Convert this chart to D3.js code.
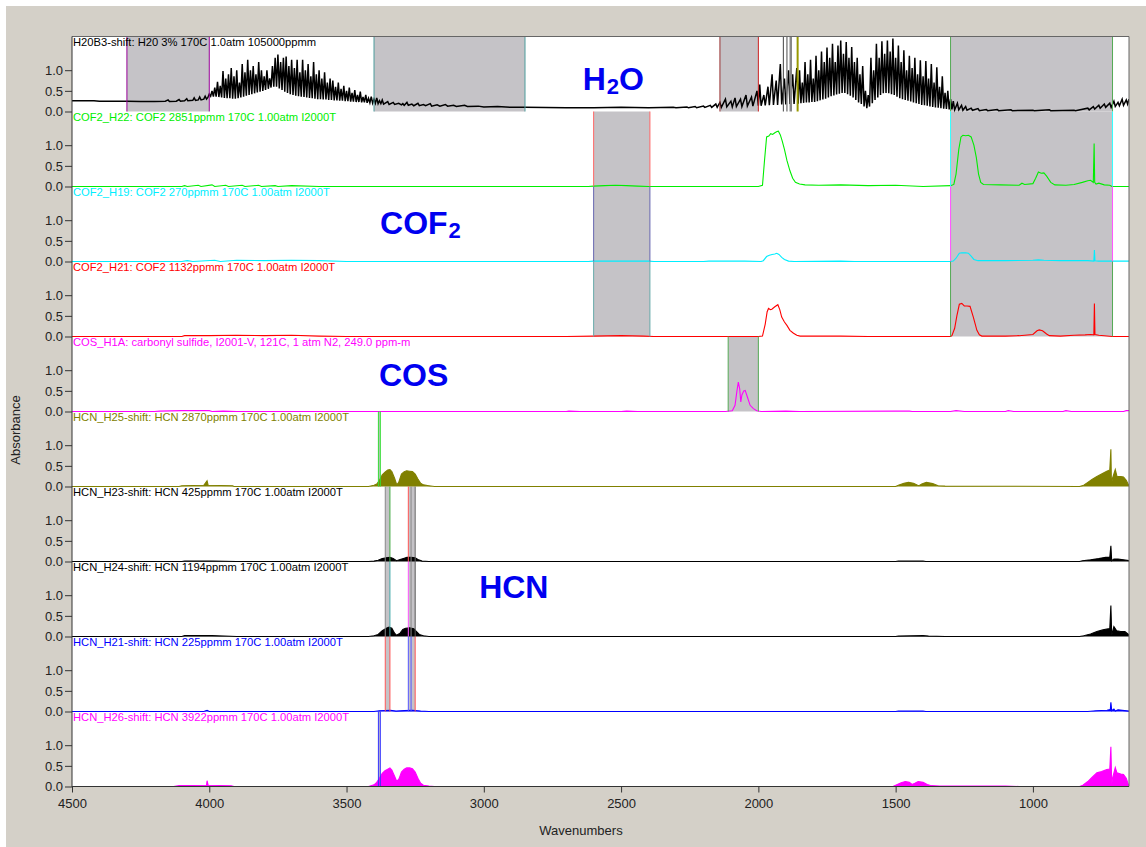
<!DOCTYPE html>
<html><head><meta charset="utf-8">
<script src="https://cdn.jsdelivr.net/npm/d3@7"></script>
<style>body{margin:0;background:#fff}svg{display:block}text{font-family:Arial,"Liberation Sans",sans-serif}</style>
</head><body><svg id="c" width="1146" height="847"></svg>
<script>
// ---------- DATA ----------
const xTicks = [4500, 4000, 3500, 3000, 2500, 2000, 1500, 1000];
const yTicks = [0, 0.5, 1.0];
const panelLabels = [
  "H20B3-shift: H20 3% 170C 1.0atm 105000ppmm",
  "COF2_H22: COF2 2851ppmm 170C 1.00atm I2000T",
  "COF2_H19: COF2 270ppmm 170C 1.00atm I2000T",
  "COF2_H21: COF2 1132ppmm 170C 1.00atm I2000T",
  "COS_H1A: carbonyl sulfide, I2001-V, 121C, 1 atm N2, 249.0 ppm-m",
  "HCN_H25-shift: HCN 2870ppmm 170C 1.00atm I2000T",
  "HCN_H23-shift: HCN 425ppmm 170C 1.00atm I2000T",
  "HCN_H24-shift: HCN 1194ppmm 170C 1.00atm I2000T",
  "HCN_H21-shift: HCN 225ppmm 170C 1.00atm I2000T",
  "HCN_H26-shift: HCN 3922ppmm 170C 1.00atm I2000T"
];
const panelColors = ["#000000","#00ee00","#00eeff","#ff0000","#ff00ff","#808000","#000000","#000000","#0000ff","#ff00ff"];
const panelFilled = [false,false,false,false,false,true,true,true,true,true];

const h2o = [
[4500,0.26],[4420,0.26],[4400,0.25],[4300,0.25],[4250,0.24],[4200,0.24],[4160,0.25],[4150,0.28],[4145,0.24],[4120,0.25],[4110,0.29],[4105,0.25],[4090,0.26],[4082,0.31],[4078,0.26],[4060,0.27],[4055,0.33],[4050,0.27],[4040,0.28],[4035,0.35],[4030,0.28],[4020,0.3],[4015,0.37],[4010,0.3],[4005,0.34],[4000,0.42],[3995,0.37],
[3990,0.5],[3985,0.36],[3980,0.58],[3975,0.36],[3970,0.72],[3965,0.35],[3960,0.62],[3955,0.34],[3950,0.98],[3945,0.33],[3940,0.8],[3935,0.32],[3930,0.9],[3925,0.32],[3920,1.05],[3915,0.31],[3910,0.85],[3905,0.31],[3900,1.0],[3895,0.32],[3890,0.7],[3885,0.34],[3880,1.15],[3875,0.36],[3870,0.95],[3865,0.38],[3860,1.25],[3855,0.4],[3850,1.0],[3845,0.42],[3840,1.1],[3835,0.44],[3830,0.9],[3825,0.46],[3820,1.2],[3815,0.48],[3810,1.0],[3805,0.5],[3800,0.85],[3795,0.52],[3790,1.0],[3785,0.55],[3780,0.8],[3775,0.58],[3770,1.1],[3765,0.6],[3760,1.3],[3755,0.6],[3750,1.38],[3745,0.56],[3740,1.2],[3735,0.52],[3730,1.3],[3725,0.48],[3720,1.33],[3715,0.45],[3710,1.1],[3705,0.42],[3700,1.25],[3695,0.4],[3690,1.05],[3685,0.38],[3680,1.25],[3675,0.37],[3670,0.95],[3665,0.36],[3660,1.25],[3655,0.35],[3650,1.0],[3645,0.34],[3640,1.15],[3635,0.33],[3630,0.85],[3625,0.32],[3620,1.2],[3615,0.31],[3610,0.9],[3605,0.3],[3600,1.0],[3595,0.3],[3590,0.8],[3585,0.29],[3580,0.95],[3575,0.29],[3570,0.7],[3565,0.28],[3560,0.8],[3555,0.28],[3550,0.75],[3545,0.27],[3540,0.6],[3535,0.27],[3530,0.7],[3525,0.26],[3520,0.55],[3515,0.26],[3510,0.62],[3505,0.25],[3500,0.5],[3495,0.25],[3490,0.58],[3485,0.24],[3480,0.45],[3475,0.24],[3470,0.52],[3465,0.23],[3460,0.4],[3455,0.23],[3450,0.48],[3445,0.22],[3440,0.35],[3435,0.22],[3430,0.4],[3425,0.21],[3420,0.32],[3415,0.21],[3410,0.36],[3405,0.2],[3400,0.3],[3395,0.2],[3390,0.33],[3385,0.19],[3380,0.26],[3375,0.19],[3370,0.28],[3365,0.18],[3350,0.24],[3345,0.17],[3330,0.22],[3325,0.17],[3310,0.2],[3300,0.16],
[3295,0.19],[3290,0.15],[3280,0.22],[3275,0.15],[3262,0.18],[3255,0.14],[3240,0.2],[3235,0.14],[3220,0.17],[3212,0.14],[3195,0.19],[3190,0.13],[3170,0.16],[3160,0.13],[3140,0.17],[3132,0.13],[3110,0.15],[3100,0.12],[3070,0.15],[3060,0.12],[3020,0.13],[3000,0.11],[2950,0.12],[2900,0.1],[2850,0.1],[2700,0.09],[2600,0.09],[2500,0.1],[2400,0.09],[2310,0.1],[2300,0.09],[2260,0.11],[2255,0.09],[2230,0.12],[2225,0.09],[2200,0.13],[2195,0.1],[2175,0.15],[2170,0.1],[2155,0.18],[2150,0.1],
[2140,0.22],[2135,0.1],[2120,0.3],[2115,0.11],[2100,0.25],[2095,0.11],[2085,0.33],[2080,0.12],[2065,0.3],[2060,0.12],[2045,0.4],[2040,0.13],[2025,0.35],[2020,0.13],[2005,0.5],[2000,0.14],[1995,0.65],[1990,0.14],[1980,0.4],[1975,0.15],[1965,0.6],[1960,0.15],[1950,0.9],[1945,0.16],[1935,0.75],[1930,0.16],[1920,1.15],[1915,0.17],[1905,0.8],[1900,0.17],[1890,1.0],[1885,0.18],[1875,0.9],[1870,0.18],[1860,1.05],[1855,0.19],
[1850,1.0],[1845,0.2],[1840,0.7],[1835,0.21],[1830,1.2],[1825,0.22],[1820,0.9],[1815,0.22],[1810,1.25],[1805,0.23],[1800,0.8],[1795,0.23],[1790,1.35],[1785,0.25],[1780,1.0],[1775,0.27],[1770,1.45],[1765,0.29],[1760,1.2],[1755,0.31],[1750,1.55],[1745,0.34],[1740,1.3],[1735,0.37],[1730,1.64],[1725,0.39],[1720,1.2],[1715,0.41],[1710,1.6],[1705,0.43],[1700,1.72],[1695,0.45],[1690,1.4],[1685,0.45],[1680,1.68],[1675,0.42],[1670,1.3],[1665,0.38],[1660,1.56],[1655,0.34],[1650,1.2],[1645,0.28],[1640,1.3],[1635,0.22],[1630,0.9],[1625,0.18],[1620,1.1],[1615,0.12],[1610,0.5],[1605,0.08],[1600,0.4],[1595,0.12],[1590,1.3],[1585,0.2],[1580,1.0],[1575,0.28],[1570,1.64],[1565,0.34],[1560,1.3],[1555,0.4],[1550,1.7],[1545,0.44],[1540,1.4],[1535,0.45],[1530,1.72],[1525,0.44],[1520,1.45],[1515,0.42],[1510,1.77],[1505,0.4],[1500,1.3],[1495,0.36],[1490,1.6],[1485,0.32],[1480,1.2],[1475,0.3],[1470,1.48],[1465,0.28],[1460,1.0],[1455,0.26],[1450,1.35],[1445,0.24],[1440,1.05],[1435,0.22],[1430,1.3],[1425,0.2],[1420,0.9],[1415,0.18],[1410,1.24],[1405,0.16],[1400,0.85],[1395,0.15],[1390,1.22],[1385,0.14],[1380,0.8],[1375,0.12],[1370,1.15],[1365,0.11],[1360,0.7],[1355,0.1],[1350,1.07],[1345,0.09],[1340,0.6],[1335,0.08],[1330,0.85],[1325,0.07],[1320,0.45],[1315,0.06],[1310,0.5],[1305,0.05],[1300,0.3],[1295,0.05],
[1290,0.25],[1285,0.04],[1275,0.2],[1270,0.04],[1260,0.15],[1255,0.03],[1245,0.12],[1240,0.03],[1225,0.08],[1220,0.03],[1200,0.07],[1195,0.02],[1170,0.05],[1165,0.02],[1130,0.05],[1125,0.02],[1080,0.04],[1075,0.02],[1000,0.03],[995,0.02],[940,0.04],[935,0.02],[850,0.03],[845,0.02],[800,0.08],[795,0.04],[780,0.12],[775,0.06],[760,0.15],[755,0.08],[740,0.18],[735,0.1],[720,0.2],[715,0.1],[705,0.25],[700,0.12],[690,0.22],[685,0.14],[675,0.3],[670,0.15],[660,0.28],[655,0.18],[650,0.3]
];

const cof2H22 = [
[4500,0],[4100,0],[4090,0.02],[4080,0],[4040,0.03],[4030,0],[3990,0.04],[3980,0],[3940,0.03],[3930,0],[3880,0.03],[3870,0],[3820,0.03],[3810,0],[3760,0.02],[3750,0],[3700,0.02],[3600,0],[2620,0],[2600,0.01],[2560,0.02],[2520,0.03],[2480,0.02],[2440,0.01],[2400,0],[2000,0],[1985,0.03],[1978,0.6],[1970,1.2],[1962,1.22],[1955,1.28],[1948,1.26],[1940,1.3],[1932,1.33],[1927,1.34],[1920,1.25],[1913,1.1],[1905,0.9],[1896,0.63],[1885,0.38],[1875,0.2],[1865,0.1],[1850,0.06],[1830,0.04],[1780,0.03],[1700,0.04],[1600,0.02],[1500,0.03],[1400,0],[1300,0.02],[1288,0.05],[1280,0.3],[1270,0.9],[1262,1.2],[1255,1.24],[1245,1.23],[1235,1.24],[1225,1.2],[1215,1.0],[1206,0.7],[1198,0.3],[1190,0.1],[1180,0.05],[1120,0.04],[1050,0.03],[1040,0.08],[1030,0.05],[1000,0.07],[990,0.2],[980,0.35],[970,0.32],[960,0.33],[950,0.25],[935,0.1],[920,0.04],[880,0.03],[850,0.05],[820,0.1],[800,0.14],[790,0.15],[780,0.1],[777,1.04],[775,0.1],[770,0.06],[760,0.08],[740,0.04],[720,0.03],[712,0],[650,0]
];
const cof2H19 = [
[4500,0],[4100,0],[4080,0.02],[4060,0],[3980,0.03],[3960,0],[3900,0.03],[3800,0.02],[3700,0.03],[3600,0.02],[3500,0],[2620,0],[2600,0.01],[2400,0.01],[2380,0],[2200,0],[2180,0.01],[2050,0.01],[1990,0],[1982,0.02],[1970,0.12],[1960,0.15],[1950,0.17],[1940,0.18],[1933,0.2],[1925,0.17],[1915,0.1],[1905,0.05],[1890,0.01],[1870,0],[1700,0.01],[1650,0],[1300,0],[1290,0.01],[1280,0.08],[1268,0.2],[1259,0.21],[1245,0.21],[1235,0.2],[1225,0.13],[1215,0.05],[1200,0.02],[1100,0.02],[1000,0.03],[980,0.04],[960,0.03],[900,0.02],[800,0.02],[778,0.01],[776,0.28],[774,0.02],[760,0.01],[712,0.01],[650,0.01]
];
const cof2H21 = [
[4500,0],[4100,0],[4090,0.02],[4000,0.02],[3900,0.03],[3800,0.02],[3700,0.03],[3600,0.01],[3500,0],[2700,0],[2600,0.01],[2500,0.02],[2420,0.01],[2380,0],[2000,0],[1985,0.01],[1975,0.3],[1968,0.6],[1963,0.68],[1956,0.65],[1951,0.66],[1940,0.72],[1929,0.77],[1922,0.65],[1915,0.47],[1905,0.35],[1896,0.27],[1885,0.15],[1872,0.08],[1860,0.03],[1848,0.01],[1700,0.01],[1600,0],[1300,0],[1295,0.02],[1285,0.2],[1277,0.5],[1268,0.78],[1259,0.8],[1250,0.74],[1240,0.74],[1229,0.73],[1217,0.47],[1204,0.15],[1195,0.04],[1186,0.01],[1100,0.01],[1050,0.02],[1000,0.05],[985,0.14],[977,0.16],[965,0.14],[950,0.06],[940,0.02],[900,0.01],[850,0.03],[810,0.04],[790,0.05],[778,0.04],[776,0.8],[774,0.05],[760,0.03],[740,0.02],[712,0],[650,0]
];
const cos = [
[4500,0],[4200,0],[4180,0.01],[4100,0.02],[4000,0.02],[3990,0],[3950,0.01],[3900,0],[2700,0],[2690,0.01],[2650,0],[2500,0],[2480,0.01],[2440,0],[2120,0],[2095,0.02],[2085,0.15],[2078,0.5],[2073,0.71],[2068,0.55],[2064,0.23],[2060,0.4],[2053,0.5],[2048,0.51],[2040,0.35],[2030,0.15],[2018,0.07],[2006,0.02],[1990,0],[1900,0.01],[1850,0],[1500,0.01],[1450,0.01],[1440,0],[1300,0],[1280,0.02],[1250,0],[1100,0],[1090,0.02],[1070,0],[890,0],[880,0.02],[860,0],[670,0],[660,0.02],[650,0.02]
];
const hcnH25 = [
[4500,0],[4110,0],[4100,0.02],[4020,0.03],[4008,0.14],[4004,0.03],[3915,0.02],[3910,0],[3420,0],[3400,0.03],[3390,0.06],[3380,0.15],[3370,0.28],[3360,0.35],[3350,0.4],[3342,0.41],[3335,0.36],[3325,0.2],[3317,0.04],[3310,0.1],[3300,0.3],[3290,0.36],[3281,0.38],[3270,0.37],[3260,0.36],[3250,0.3],[3240,0.18],[3230,0.08],[3220,0.04],[3200,0.02],[3180,0],[1500,0],[1490,0.03],[1470,0.08],[1453,0.1],[1435,0.08],[1420,0.03],[1415,0.02],[1405,0.06],[1388,0.1],[1365,0.07],[1345,0.02],[1320,0.01],[830,0],[815,0.03],[800,0.1],[785,0.17],[767,0.24],[750,0.3],[731,0.37],[720,0.4],[716,0.9],[714,0.04],[710,0.2],[700,0.41],[694,0.25],[680,0.24],[670,0.23],[660,0.15],[652,0.04],[650,0.03]
];
const hcnH23 = [
[4500,0],[4100,0],[4090,0.01],[3990,0.01],[3900,0],[3420,0],[3400,0.01],[3385,0.03],[3370,0.07],[3355,0.09],[3342,0.1],[3330,0.07],[3318,0.02],[3305,0.05],[3290,0.08],[3280,0.1],[3265,0.1],[3250,0.09],[3240,0.05],[3225,0.01],[3200,0],[1500,0],[1490,0.01],[1400,0.01],[1390,0],[830,0],[820,0.02],[790,0.04],[760,0.07],[735,0.1],[720,0.1],[716,0.38],[713,0.02],[705,0.06],[690,0.06],[670,0.04],[650,0.02]
];
const hcnH24 = [
[4500,0],[4100,0],[4090,0.02],[3990,0.02],[3900,0],[3420,0],[3400,0.02],[3385,0.05],[3370,0.14],[3355,0.2],[3345,0.23],[3335,0.2],[3325,0.08],[3318,0.03],[3305,0.08],[3295,0.17],[3285,0.2],[3270,0.21],[3255,0.19],[3245,0.12],[3235,0.05],[3220,0.02],[3200,0],[1500,0],[1490,0.01],[1400,0.02],[1380,0.01],[1320,0],[830,0],[815,0.02],[790,0.06],[767,0.12],[745,0.16],[731,0.18],[720,0.19],[716,0.75],[713,0.03],[705,0.24],[695,0.14],[680,0.12],[665,0.12],[652,0.05],[650,0.03]
];
const hcnH21 = [
[4500,0],[4020,0],[4008,0.03],[4000,0],[3400,0],[3380,0.02],[3340,0.03],[3320,0.01],[3290,0.02],[3260,0.03],[3230,0.01],[3200,0],[1500,0],[1490,0.01],[1400,0.01],[1390,0],[800,0],[770,0.02],[730,0.03],[718,0.05],[716,0.22],[713,0.02],[705,0.06],[700,0.01],[690,0.04],[650,0.01]
];
const hcnH26 = [
[4500,0],[4130,0],[4110,0.02],[4010,0.03],[4008,0.14],[4004,0.03],[3920,0.02],[3910,0],[3420,0],[3400,0.04],[3390,0.1],[3380,0.2],[3370,0.32],[3360,0.38],[3350,0.42],[3342,0.45],[3335,0.4],[3325,0.25],[3317,0.12],[3308,0.2],[3300,0.35],[3290,0.42],[3281,0.45],[3270,0.45],[3260,0.43],[3250,0.35],[3240,0.2],[3230,0.08],[3220,0.03],[3200,0.01],[3180,0],[1510,0],[1500,0.03],[1480,0.09],[1465,0.12],[1450,0.1],[1440,0.05],[1430,0.08],[1418,0.12],[1400,0.1],[1385,0.05],[1370,0.02],[1340,0.01],[1100,0.01],[1050,0],[830,0],[818,0.03],[800,0.12],[785,0.22],[767,0.33],[750,0.36],[731,0.41],[720,0.42],[716,0.96],[713,0.05],[710,0.2],[700,0.46],[694,0.33],[680,0.3],[670,0.29],[660,0.2],[652,0.04],[650,0.02]
];
const spectra = [h2o, cof2H22, cof2H19, cof2H21, cos, hcnH25, hcnH23, hcnH24, hcnH21, hcnH26];

// shaded windows: [wnLeft, wnRight, firstPanel, lastPanel]
const windows = [
[4300,4000,0,0],[3400,2850,0,0],[2140,2000,0,0],[1300,710,0,0],
[2600,2395,1,3],[1300,710,1,3],[2110,2000,4,4],
[3384,3377,5,5],[3359,3342,6,8],[3275,3250,6,8],[3384,3377,9,9]
];
// window edge markers: [wn, firstPanel, lastPanel, colour, width]
const markers = [
[4300,0,0,"#990099",1],[4000,0,0,"#990099",1],[3400,0,0,"#4d9c9c",1],[2850,0,0,"#4d9c9c",1],
[2140,0,0,"#993333",1],[2000,0,0,"#cc2222",1],[1909,0,0,"#444444",1],[1896,0,0,"#888888",1.5],[1882,0,0,"#888888",2.5],[1857,0,0,"#999900",2],
[1300,0,0,"#55aa55",1],[710,0,0,"#55aa55",1],
[2600,1,1,"#ff6666",1],[2395,1,1,"#ff6666",1],[2600,2,2,"#6666b0",1],[2395,2,2,"#6666b0",1],[2600,3,3,"#66aaaa",1],[2395,3,3,"#66aaaa",1],
[1300,1,1,"#33ffff",1],[710,1,1,"#33ffff",1],[1300,2,2,"#ff55ff",1],[710,2,2,"#ff55ff",1],[1300,3,3,"#55aa55",1],[710,3,3,"#55aa55",1],
[2110,4,4,"#55aa55",1],[2000,4,4,"#55aa55",1],
[3384,5,5,"#33dd33",1],[3377,5,5,"#33dd33",1],
[3359,6,6,"#888888",1],[3342,6,6,"#44aa44",1],[3275,6,6,"#ff5555",1],[3265,6,6,"#888888",1],[3250,6,6,"#666666",1],
[3359,7,7,"#888888",1],[3342,7,7,"#44aaaa",1],[3275,7,7,"#ff55ff",1],[3265,7,7,"#888888",1],[3250,7,7,"#555555",1],
[3359,8,8,"#ff5555",1],[3342,8,8,"#ff5555",1],[3275,8,8,"#5555ff",1],[3265,8,8,"#5555ff",1],[3250,8,8,"#ff5555",1],
[3384,9,9,"#3333ff",1],[3377,9,9,"#3333ff",1]
];
// big compound labels: [main, subscript, tail, wn anchor, panel, value]
const compoundLabels = [
["H","2","O",2640,0,0.52],
["COF","2","",3378,2,0.67],
["COS","","",3382,4,0.62],
["HCN","","",3017,7,0.93]
];

// ---------- DRAW ----------
const svg = d3.select("#c");
const L=72, R=1129, T=36.5, PH=75, NP=10, B=T+PH*NP;
const PX_PER_UNIT = 41.3;
svg.append("rect").attr("x",6).attr("y",6).attr("width",1140).attr("height",841).attr("fill","#d4d0c8");
svg.append("rect").attr("x",L).attr("y",T).attr("width",R-L).attr("height",B-T).attr("fill","#ffffff");

const x = d3.scaleLinear().domain([4500,650]).range([L,R]);
const yOf = i => d3.scaleLinear().domain([0, PH/PX_PER_UNIT]).range([T+PH*(i+1), T+PH*i]);

svg.append("defs").append("clipPath").attr("id","plotclip")
  .append("rect").attr("x",L).attr("y",T).attr("width",R-L).attr("height",B-T+1);

const gWin = svg.append("g");
windows.forEach(w=>{
  gWin.append("rect").attr("x",x(w[0])).attr("width",x(w[1])-x(w[0]))
    .attr("y",T+PH*w[2]).attr("height",PH*(w[3]-w[2]+1)).attr("fill","#c5c3c7");
});

const gTr = svg.append("g").attr("clip-path","url(#plotclip)");
spectra.forEach((d,i)=>{
  const y = yOf(i);
  if(panelFilled[i]){
    gTr.append("path").datum(d).attr("fill",panelColors[i])
      .attr("d", d3.area().x(p=>x(p[0])).y0(y(0)).y1(p=>y(p[1])));
  }
  gTr.append("path").datum(d).attr("fill","none").attr("stroke",panelColors[i])
    .attr("stroke-width", i===0?1.5:1.1).attr("stroke-linejoin","miter")
    .attr("d", d3.line().x(p=>x(p[0])).y(p=>y(p[1])));
});

const gMk = svg.append("g");
markers.forEach(m=>{
  gMk.append("line").attr("x1",x(m[0])).attr("x2",x(m[0]))
    .attr("y1",T+PH*m[1]).attr("y2",T+PH*(m[2]+1))
    .attr("stroke",m[3]).attr("stroke-width",m[4]);
});

// panel labels
panelLabels.forEach((t,i)=>{
  svg.append("text").attr("x",L+1).attr("y",T+PH*i+9.5).attr("font-size",11.2)
    .attr("fill",panelColors[i]).text(t);
});

// big labels
compoundLabels.forEach(c=>{
  const y = yOf(c[4]);
  const t = svg.append("text").attr("x",x(c[3])).attr("y",y(c[5]))
    .attr("font-size",32).attr("font-weight","bold").attr("fill","#0000f0");
  t.append("tspan").text(c[0]);
  if(c[1]) t.append("tspan").attr("font-size",22).attr("dy",4).attr("dx",1).text(c[1]);
  if(c[2]) t.append("tspan").attr("dy",-4).text(c[2]);
});

// y axes
for(let i=0;i<NP;i++){
  const g = svg.append("g").attr("transform",`translate(${L},0)`)
    .call(d3.axisLeft(yOf(i)).tickValues(yTicks).tickFormat(d3.format(".1f")).tickSize(7).tickPadding(2));
  g.select(".domain").remove();
  g.selectAll("line").attr("stroke","#333");
  g.selectAll("text").attr("font-size",13).attr("fill","#222").attr("font-family","Arial, 'Liberation Sans', sans-serif");
}
const gx = svg.append("g").attr("transform",`translate(0,${B})`)
  .call(d3.axisBottom(x).tickValues(xTicks).tickFormat(d3.format("d")).tickSize(6).tickPadding(6));
gx.select(".domain").remove();
gx.selectAll("line").attr("stroke","#333");
gx.selectAll("text").attr("font-size",13).attr("fill","#222").attr("font-family","Arial, 'Liberation Sans', sans-serif");

// frame
svg.append("line").attr("x1",L).attr("x2",R).attr("y1",T).attr("y2",T).attr("stroke","#666");
svg.append("line").attr("x1",R).attr("x2",R).attr("y1",T).attr("y2",B).attr("stroke","#666");
svg.append("line").attr("x1",L).attr("x2",L).attr("y1",T).attr("y2",B+0.5).attr("stroke","#333");
svg.append("line").attr("x1",L).attr("x2",R).attr("y1",B).attr("y2",B).attr("stroke","#333");

svg.append("text").attr("x",581).attr("y",835).attr("text-anchor","middle").attr("font-size",13).attr("fill","#222").text("Wavenumbers");
svg.append("text").attr("transform","translate(20,430) rotate(-90)").attr("text-anchor","middle").attr("font-size",13).attr("fill","#222").text("Absorbance");
</script></body></html>
